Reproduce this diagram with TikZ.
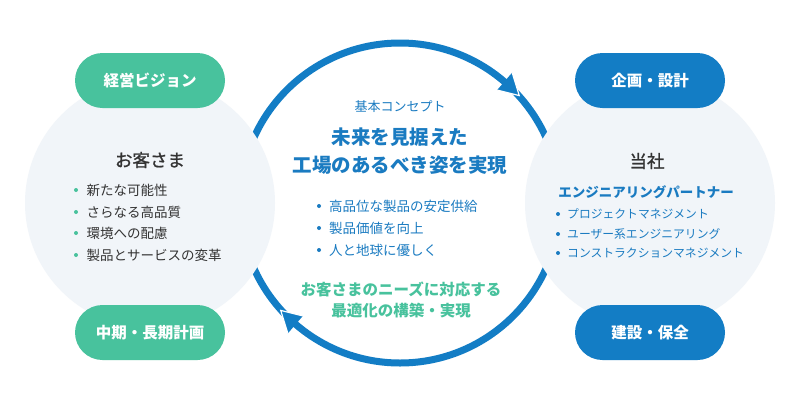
\documentclass[tikz,border=0pt]{standalone}
\usepackage{fontspec}
\usetikzlibrary{calc}
\setmainfont{Noto Sans CJK JP}
\newfontfamily\medjp{Noto Sans CJK JP}[FakeBold=1.2]
\definecolor{ringblue}{HTML}{137DC5}
\definecolor{pillgreen}{HTML}{48C29D}
\definecolor{circgray}{HTML}{F1F5F9}
\definecolor{txtblue}{HTML}{1A7BC1}
\definecolor{txtdark}{HTML}{333333}
\tikzset{
  pill/.style={rounded corners=27.5pt, minimum width=150pt, minimum height=55pt, inner sep=0pt, text=white, font=\fontsize{15.5}{18}\selectfont\bfseries},
  gpill/.style={pill, fill=pillgreen},
  bpill/.style={pill, fill=ringblue},
  dotb/.style={circle, inner sep=0pt, minimum size=4pt},
  heading/.style={inner sep=0pt, text=txtdark, font=\medjp\fontsize{17.5}{20}\selectfont},
  item/.style={inner sep=0pt, anchor=west, font=\fontsize{13.5}{16}\selectfont},
  smallitem/.style={inner sep=0pt, anchor=west, font=\fontsize{11.8}{14}\selectfont, text=txtblue},
  arrowtip/.style={fill=ringblue},
  notch/.style={draw=white, line width=1.2pt},
}
\begin{document}
\begin{tikzpicture}[x=1pt,y=-1pt]
\useasboundingbox (0,0) rectangle (800,410);
\fill[white] (0,0) rectangle (800,410);
% ring
\coordinate (c) at (400,203);
\draw[ringblue, line width=7pt] (c) circle (160);
% arrowheads
\coordinate (t1) at ($(c)+(-42:160.5)$);
\coordinate (a1) at ($(c)+(-49.3:149)$);
\coordinate (b1) at ($(c)+(-49.3:172)$);
\fill[arrowtip] (a1) -- (t1) -- (b1) -- cycle;
\draw[notch] (a1) -- (t1) -- (b1);
\coordinate (t2) at ($(c)+(138:160.5)$);
\coordinate (a2) at ($(c)+(130.7:149)$);
\coordinate (b2) at ($(c)+(130.7:172)$);
\fill[arrowtip] (a2) -- (t2) -- (b2) -- cycle;
\draw[notch] (a2) -- (t2) -- (b2);
% side circles
\fill[circgray] (150,203) circle (125);
\fill[circgray] (650,203) circle (125);
% pills
\node[gpill] (vision) at (150,80.5) {経営ビジョン};
\node[gpill] (plan) at (150,332.5) {中期・長期計画};
\node[bpill] (design) at (650,80.5) {企画・設計};
\node[bpill] (build) at (650,332.5) {建設・保全};
% left circle
\node[heading] (cust) at (150,160) {お客さま};
\foreach \y/\t [count=\i] in {190/新たな可能性, 212/さらなる高品質, 233/環境への配慮, 255/製品とサービスの変革}{
  \node[dotb, fill=pillgreen] (ld\i) at (76,\y) {};
  \node[item, text=txtdark] (lt\i) at (86.5,\y) {\t};
}
% right circle
\node[heading] (self) at (647,161) {当社};
\node[inner sep=0pt, text=txtblue, font=\fontsize{13.5}{16}\selectfont\bfseries] (partner) at (646,192) {エンジニアリングパートナー};
\foreach \y/\t [count=\i] in {214/プロジェクトマネジメント, 234/ユーザー系エンジニアリング, 253/コンストラクションマネジメント}{
  \node[dotb, fill=txtblue] (rd\i) at (558,\y) {};
  \node[smallitem] (rt\i) at (567,\y) {\t};
}
% center
\node[inner sep=0pt, text=txtblue, font=\fontsize{13}{16}\selectfont] (concept) at (400,107) {基本コンセプト};
\node[inner sep=0pt, text=txtblue, font=\fontsize{19.5}{23}\selectfont\bfseries] (title1) at (400,137) {未来を見据えた};
\node[inner sep=0pt, text=txtblue, font=\fontsize{19.5}{23}\selectfont\bfseries] (title2) at (400,165) {工場のあるべき姿を実現};
\foreach \y/\t [count=\i] in {206/高品位な製品の安定供給, 228/製品価値を向上, 250/人と地球に優しく}{
  \node[dotb, fill=txtblue] (cd\i) at (319,\y) {};
  \node[item, text=txtblue] (ct\i) at (329,\y) {\t};
}
\node[inner sep=0pt, text=pillgreen, font=\fontsize{15.5}{18}\selectfont\bfseries] (need1) at (401,289) {お客さまのニーズに対応する};
\node[inner sep=0pt, text=pillgreen, font=\fontsize{15.5}{18}\selectfont\bfseries] (need2) at (401,311) {最適化の構築・実現};
\end{tikzpicture}
\end{document}
